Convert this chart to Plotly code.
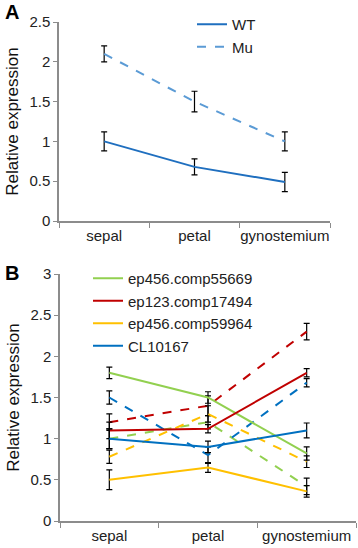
import plotly.graph_objects as go

categories = ["sepal", "petal", "gynostemium"]

# Panel A
wt_vals = [1.0, 0.68, 0.49]
wt_err = [0.12, 0.10, 0.12]
mu_vals = [2.1, 1.5, 1.0]
mu_err = [0.10, 0.13, 0.12]

# Panel B (solid = first, dashed = second)
names_b = ["ep456.comp55669", "ep123.comp17494", "ep456.comp59964", "CL10167"]
colors_b = ["#92D050", "#C00000", "#FFC000", "#0070C0"]
solid_vals = [[1.8, 1.5, 0.82], [1.1, 1.12, 1.8], [0.5, 0.65, 0.36], [1.0, 0.9, 1.1]]
solid_err = [[0.07, 0.07, 0.08], [0.10, 0.05, 0.05], [0.12, 0.06, 0.07], [0.12, 0.07, 0.09]]
dashed_vals = [[1.0, 1.2, 0.42], [1.2, 1.4, 2.3], [0.78, 1.3, 0.72], [1.5, 0.8, 1.68]]
dashed_err = [[0.12, 0.08, 0.10], [0.10, 0.12, 0.10], [0.08, 0.10, 0.07], [0.08, 0.10, 0.05]]

FONT = "Liberation Sans, Arial, sans-serif"
AX = "#8C8C8C"

fig = go.Figure()

def eb(e):
    return dict(type="data", array=e, color="black", thickness=1.2, width=3)

fig.add_trace(go.Scatter(x=categories, y=wt_vals, name="WT", mode="lines",
                         line=dict(color="#1F6FBF", width=2), error_y=eb(wt_err),
                         xaxis="x", yaxis="y", legend="legend"))
fig.add_trace(go.Scatter(x=categories, y=mu_vals, name="Mu", mode="lines",
                         line=dict(color="#5B9BD5", width=2, dash="dash"), error_y=eb(mu_err),
                         xaxis="x", yaxis="y", legend="legend"))

for n, c, v, e in zip(names_b, colors_b, dashed_vals, dashed_err):
    fig.add_trace(go.Scatter(x=categories, y=v, name=n, mode="lines", showlegend=False,
                             line=dict(color=c, width=2, dash="dash"), error_y=eb(e),
                             xaxis="x2", yaxis="y2"))
for n, c, v, e in zip(names_b, colors_b, solid_vals, solid_err):
    fig.add_trace(go.Scatter(x=categories, y=v, name=n, mode="lines",
                             line=dict(color=c, width=2), error_y=eb(e),
                             xaxis="x2", yaxis="y2", legend="legend2"))

H = 548.0
W = 358.0

xcommon = dict(type="category", categoryorder="array", categoryarray=categories,
               showline=True, linecolor=AX, linewidth=1.5, ticks="outside", tickson="boundaries",
               ticklen=5, tickcolor=AX, showgrid=False, zeroline=False, tickangle=0,
               automargin=False, tickfont=dict(size=15, color="#222"))
ycommon = dict(showline=True, linecolor=AX, linewidth=1.5, ticks="outside", ticklen=4,
               tickcolor=AX, showgrid=False, zeroline=False, tickfont=dict(size=15, color="#222"),
               automargin=False,
               title=dict(text="Relative expression", font=dict(size=17, color="#111"), standoff=6))

fig.update_layout(
    width=358, height=548,
    margin=dict(l=0, r=0, t=0, b=0),
    paper_bgcolor="white", plot_bgcolor="white",
    font=dict(family=FONT, color="#222"),
    xaxis=dict(xcommon, domain=[59 / W, 330 / W], anchor="y", range=[-0.5, 2.5]),
    yaxis=dict(ycommon, domain=[1 - 221 / H, 1 - 22 / H], anchor="x", range=[0, 2.5], dtick=0.5),
    xaxis2=dict(xcommon, domain=[60 / W, 356 / W], anchor="y2", range=[-0.5, 2.5]),
    yaxis2=dict(ycommon, domain=[1 - 521 / H, 1 - 274 / H], anchor="x2", range=[0, 3], dtick=0.5),
    legend=dict(x=192 / W, y=1 - 8 / H, xanchor="left", yanchor="top", bgcolor="rgba(0,0,0,0)",
                font=dict(size=15, color="#222"), itemwidth=30, tracegroupgap=4),
    legend2=dict(x=88 / W, y=1 - 262 / H, xanchor="left", yanchor="top", bgcolor="rgba(0,0,0,0)",
                 font=dict(size=15, color="#222"), itemwidth=30, traceorder="normal"),
    annotations=[
        dict(text="<b>A</b>", x=3 / W, y=1 - 12 / H, xref="paper", yref="paper", showarrow=False,
             xanchor="left", yanchor="middle", font=dict(size=20, color="black")),
        dict(text="<b>B</b>", x=3 / W, y=1 - 273 / H, xref="paper", yref="paper", showarrow=False,
             xanchor="left", yanchor="middle", font=dict(size=20, color="black")),
    ],
)

fig.write_html("out.html", config={"displayModeBar": False},
               post_script="document.body.style.margin='0';document.body.style.overflow='hidden';")
